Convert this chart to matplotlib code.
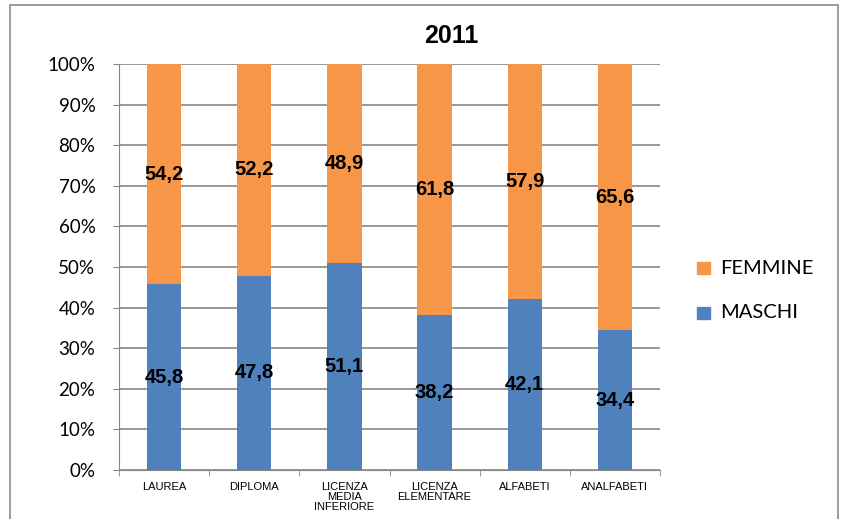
import matplotlib
matplotlib.use("Agg")
import matplotlib.pyplot as plt
from matplotlib.patches import Rectangle

categories = ["LAUREA", "DIPLOMA", "LICENZA\nMEDIA\nINFERIORE",
              "LICENZA\nELEMENTARE", "ALFABETI", "ANALFABETI"]
maschi = [45.8, 47.8, 51.1, 38.2, 42.1, 34.4]
femmine = [54.2, 52.2, 48.9, 61.8, 57.9, 65.6]
yticks = [0, 10, 20, 30, 40, 50, 60, 70, 80, 90, 100]

col_m = "#4F81BD"
col_f = "#F79646"
grid_col = "#868686"

fig = plt.figure(figsize=(8.44, 5.19), dpi=100)
fig.patches.append(Rectangle((10 / 844, -0.05), 828 / 844, 1.05 - 5 / 519,
                             transform=fig.transFigure, fill=False,
                             edgecolor="#8c8c8c", linewidth=1.2))

ax = fig.add_axes([119 / 844, 49 / 519, 541 / 844, 406 / 519])
x = list(range(len(categories)))
w = 0.38
ax.bar(x, maschi, width=w, color=col_m, zorder=3)
ax.bar(x, femmine, width=w, bottom=maschi, color=col_f, zorder=3)

# data labels, comma decimal
for i in x:
    ax.text(i, maschi[i] / 2, f"{maschi[i]:.1f}".replace(".", ","),
            ha="center", va="center", fontsize=14.5, fontweight="bold",
            family="Liberation Sans", zorder=4)
    ax.text(i, maschi[i] + femmine[i] / 2, f"{femmine[i]:.1f}".replace(".", ","),
            ha="center", va="center", fontsize=14.5, fontweight="bold",
            family="Liberation Sans", zorder=4)

ax.set_xlim(-0.5, len(categories) - 0.5)
ax.set_ylim(0, 100)
ax.set_yticks(yticks)
ax.set_yticklabels([f"{v}%" for v in yticks], family="Lato", fontsize=13.5)
ax.yaxis.grid(True, color=grid_col, linewidth=1.2, zorder=0)
ax.set_xticks(x)
ax.set_xticklabels(categories, family="Liberation Sans", fontsize=8, linespacing=1.0)
ax.set_xticks([i + 0.5 for i in range(-1, len(categories))], minor=True)
ax.tick_params(axis="x", which="major", length=0, pad=9)
ax.tick_params(axis="x", which="minor", length=4, color=grid_col)
ax.tick_params(axis="y", length=4, color=grid_col, pad=13)
for s in ["top", "right"]:
    ax.spines[s].set_visible(False)
ax.spines["left"].set_color(grid_col)
ax.spines["bottom"].set_color(grid_col)

fig.text(451 / 844, 1 - 36 / 519, "2011", ha="center", va="center",
         fontsize=18, fontweight="bold", family="Liberation Sans")

# legend
for yy, lab, c in [(268, "FEMMINE", col_f), (313, "MASCHI", col_m)]:
    fig.patches.append(Rectangle((697 / 844, 1 - (yy + 6) / 519), 13 / 844, 12 / 519,
                                 transform=fig.transFigure, color=c))
    fig.text(720 / 844, 1 - yy / 519, lab, ha="left", va="center",
             fontsize=14.5, family="Lato")

fig.savefig("out.png", dpi=100)
